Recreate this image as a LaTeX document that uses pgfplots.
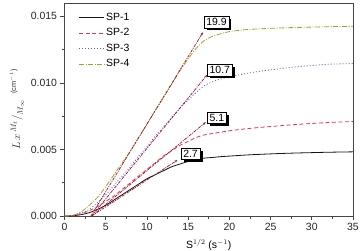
\documentclass[border=0pt]{standalone}
\usepackage{pgfplots}
\pgfplotsset{compat=1.18}
\usepackage{pgfplotstable}
\usepackage{fontspec}
\setmainfont{Liberation Sans}
\usetikzlibrary{arrows.meta}

\definecolor{sponeC}{RGB}{20,20,20}
\definecolor{sptwoC}{RGB}{232,52,78}
\definecolor{spthreeC}{RGB}{90,90,225}
\definecolor{spfourC}{RGB}{160,160,48}
\definecolor{fitC}{RGB}{150,20,45}
\definecolor{frameC}{RGB}{70,70,70}

% uptake curves, x = S^{1/2}
\pgfplotstableread{
x y
0 0
1 0.00002
2 0.0001
3 0.00025
4 0.0005
5 0.0008
6 0.0012
7 0.0016
8 0.0020
9 0.0024
10 0.0028
11 0.0031
12 0.0034
13 0.0037
14 0.0039
15 0.0041
16 0.00425
17 0.00435
18 0.0044
19 0.00446
20 0.0045
22 0.00458
24 0.00464
26 0.00469
28 0.00473
30 0.00476
32 0.00479
35 0.00482
}\spone
\pgfplotstableread{
x y
0 0
1 0.00003
2 0.00015
3 0.0004
4 0.0007
5 0.0011
6 0.0015
7 0.0020
8 0.0025
9 0.0030
10 0.0035
11 0.0040
12 0.0045
13 0.0049
14 0.0053
15 0.0056
16 0.0059
17 0.0061
18 0.0062
19 0.0063
20 0.0064
22 0.00655
24 0.00667
26 0.00677
28 0.00687
30 0.00695
32 0.00702
35 0.0071
}\sptwo
\pgfplotstableread{
x y
0 0
1 0.00004
2 0.0002
3 0.0005
4 0.0010
5 0.0016
6 0.0023
7 0.0030
8 0.0037
9 0.0045
10 0.0052
11 0.0060
12 0.0067
13 0.0074
14 0.0081
15 0.0087
16 0.0093
17 0.0098
18 0.0101
19 0.0103
20 0.01045
22 0.0107
24 0.0109
26 0.01105
28 0.0112
30 0.0113
32 0.0114
35 0.01145
}\spthree
\pgfplotstableread{
x y
0 0
1 0.00005
2 0.0003
3 0.0008
4 0.0014
5 0.0022
6 0.0031
7 0.0040
8 0.0049
9 0.0059
10 0.0069
11 0.0079
12 0.0089
13 0.0099
14 0.0109
15 0.0118
16 0.0126
17 0.0132
18 0.0135
19 0.0137
20 0.01385
22 0.0140
24 0.01407
26 0.01412
28 0.01416
30 0.01419
32 0.01422
35 0.01425
}\spfour

\tikzset{
  fitline/.style={fitC, line width=0.7bp, dash pattern=on 3bp off 1bp on 1bp off 1bp,
    -{Stealth[length=3bp,width=2.2bp]}},
  valbox/.style={draw=black, fill=white, line width=0.7bp, inner sep=2.2bp,
    anchor=south west, font=\fontsize{10.5}{12}\selectfont,
    preaction={fill=black, transform canvas={xshift=2.5bp, yshift=-2.5bp}}},
}

\begin{document}
\begin{tikzpicture}
\begin{axis}[
  at={(0,0)}, anchor=south west,
  scale only axis, width=288.5bp, height=213bp,
  xmin=0, xmax=35, ymin=0, ymax=0.016,
  xtick={0,5,...,35},
  ytick={0,0.005,0.010,0.015},
  minor tick num=1,
  tick pos=left, tick align=outside,
  major tick length=4bp, minor tick length=2.5bp,
  axis line style={frameC, line width=0.7bp},
  every tick/.style={frameC, line width=0.6bp},
  scaled y ticks=false,
  yticklabel style={/pgf/number format/.cd, fixed, fixed zerofill, precision=3},
  /pgf/number format/assume math mode=true,
  tick label style={font=\fontsize{10.5}{12}\selectfont, text=black!85},
  xlabel={S$^{1/2}$ (s$^{-1}$)},
  xlabel style={at={(axis description cs:0.5,-0.135)}, anchor=center,
    font=\fontsize{10.5}{12}\selectfont},
  ylabel={$L\,x$\,\raisebox{0.7ex}{\fontsize{8.5}{9}\selectfont$M_t$}$\big/$\raisebox{-0.5ex}{\fontsize{8.5}{9}\selectfont$M_\infty$}\ \ \raisebox{0.7ex}{\fontsize{7.5}{8}\selectfont(cm$^{-1}$)}},
  ylabel style={at={(axis description cs:-0.165,0.5)}, anchor=center,
    font=\fontsize{10.5}{12}\selectfont, text=black!80},
  legend style={at={(axis description cs:0.049,0.962)}, anchor=north west,
    draw=none, fill=none, inner sep=0bp, row sep=3bp,
    font=\fontsize{10.5}{12}\selectfont,
    nodes={inner sep=1.5bp, text height=7.5bp, text depth=2bp}},
  legend cell align=left,
  legend image code/.code={\draw[#1] (0bp,0bp) -- (25bp,0bp);},
]
\addplot[sponeC, line width=0.8bp, smooth] table {\spone};
\addlegendentry{SP-1}
\addplot[sptwoC, line width=0.8bp, smooth, dash pattern=on 4bp off 2.5bp] table {\sptwo};
\addlegendentry{SP-2}
\addplot[spthreeC, line width=0.8bp, smooth, dash pattern=on 1bp off 2bp] table {\spthree};
\addlegendentry{SP-3}
\addplot[spfourC, line width=0.8bp, smooth, dash pattern=on 5bp off 1.5bp on 1bp off 1.5bp] table {\spfour};
\addlegendentry{SP-4}

% linear fits of the initial uptake
\addplot[fitline, forget plot] coordinates {(3.3,0) (13.7,0.0042)};
\addplot[fitline, forget plot] coordinates {(3.3,0) (17.15,0.00705)};
\addplot[fitline, forget plot] coordinates {(3.3,0) (17.3,0.0106)};
\addplot[fitline, forget plot] coordinates {(3.2,0) (16.8,0.0138)};

\node[valbox] at (axis cs:14.1,0.0042) {2.7};
\node[valbox] at (axis cs:17.3,0.0069) {5.1};
\node[valbox] at (axis cs:17.3,0.0105) {10.7};
\node[valbox] at (axis cs:16.9,0.0141) {19.9};
\end{axis}
\pgfresetboundingbox
\path[use as bounding box] (-64.5bp,-35bp) rectangle (296.5bp,216bp);
\end{tikzpicture}
\end{document}
